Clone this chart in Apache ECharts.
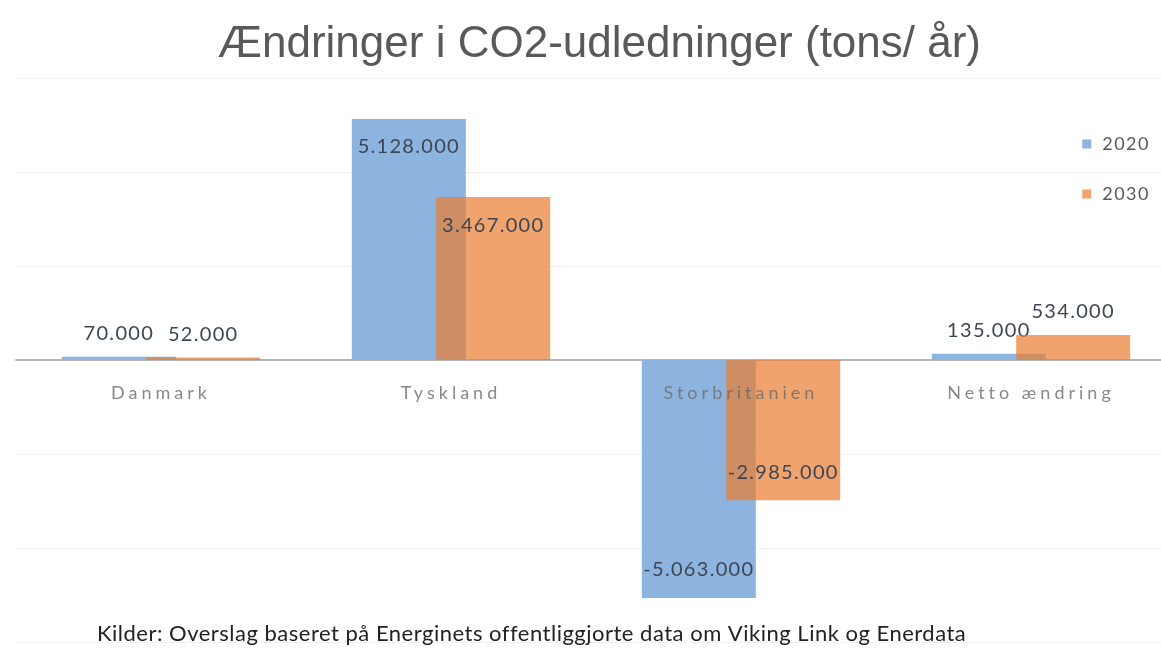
<!DOCTYPE html>
<html>
<head>
<meta charset="utf-8">
<script src="https://cdn.jsdelivr.net/npm/echarts@6/dist/echarts.min.js"></script>
<style>
html,body{margin:0;padding:0;background:#fff;}
#chart{width:1161px;height:649px;}
</style>
</head>
<body>
<div id="chart"></div>
<script>
const titleText = 'Ændringer i CO2-udledninger (tons/ år)';
const sourceText = 'Kilder: Overslag baseret på Energinets offentliggjorte data om Viking Link og Enerdata';
const categories = ['Danmark', 'Tyskland', 'Storbritanien', 'Netto ændring'];
const seriesNames = ['2020', '2030'];
const values2020 = [70000, 5128000, -5063000, 135000];
const values2030 = [52000, 3467000, -2985000, 534000];

// letter spacing helper: font family marker "lsN_M" -> N.M px spacing
(function () {
  const P = CanvasRenderingContext2D.prototype;
  ['fillText', 'strokeText'].forEach(fn => {
    const orig = P[fn];
    P[fn] = function (t, x, y, mw) {
      const m = /ls(\d+)_(\d+)/.exec(this.font);
      const has = 'letterSpacing' in this;
      if (has) this.letterSpacing = m ? (m[1] + '.' + m[2] + 'px') : '0px';
      const r = mw === undefined ? orig.call(this, t, x, y) : orig.call(this, t, x, y, mw);
      if (has) this.letterSpacing = '0px';
      return r;
    };
  });
})();

function fmt(v) {
  const s = Math.abs(v).toString().replace(/\B(?=(\d{3})+(?!\d))/g, '.');
  return (v < 0 ? '-' : '') + s;
}
function items(arr) {
  return arr.map(v => {
    const big = Math.abs(v) > 1000000;
    return {
      value: v,
      label: {
        position: big ? (v > 0 ? 'insideTop' : 'insideBottom') : 'top',
        distance: big ? 18 : 13
      }
    };
  });
}

const chart = echarts.init(document.getElementById('chart'), null, {renderer: 'canvas'});
const labelStyle = {
  show: true,
  formatter: p => fmt(p.value),
  fontFamily: 'Lato, ls1_3, sans-serif',
  fontSize: 20,
  color: '#3d4654'
};
chart.setOption({
  animation: false,
  backgroundColor: '#fff',
  title: {
    text: titleText,
    left: 213,
    top: 18,
    textStyle: {
      fontFamily: '"Liberation Sans", Arial, sans-serif',
      fontWeight: 'normal',
      fontSize: 44,
      color: '#595959'
    }
  },
  graphic: [{
    type: 'text',
    left: 97,
    top: 623,
    style: {
      text: sourceText,
      fontFamily: 'Lato, ls0_5, sans-serif',
      fontSize: 22,
      fill: '#222'
    },
    z: 20
  }],
  legend: {
    orient: 'vertical',
    right: 12,
    top: 130,
    itemWidth: 9,
    itemHeight: 9,
    itemGap: 32,
    icon: 'rect',
    textStyle: {
      fontFamily: 'Lato, ls1_5, sans-serif',
      fontSize: 18,
      color: '#595959',
      padding: [0, 0, 0, 6]
    },
    data: seriesNames
  },
  grid: {
    left: 16,
    top: 78,
    width: 1160,
    height: 564,
    containLabel: false,
    outerBoundsMode: 'none'
  },
  xAxis: {
    type: 'category',
    data: categories,
    axisLine: {onZero: true, lineStyle: {color: '#b5b5b5', width: 2}},
    axisTick: {show: false},
    axisLabel: {show: false}
  },
  yAxis: {
    type: 'value',
    min: -6000000,
    max: 6000000,
    interval: 2000000,
    axisLabel: {show: false},
    axisLine: {show: false},
    axisTick: {show: false},
    splitLine: {lineStyle: {color: '#f0f0f0', width: 1}}
  },
  series: [
    {
      name: seriesNames[0],
      type: 'bar',
      data: items(values2020),
      barWidth: 114,
      barGap: '-26%',
      itemStyle: {color: '#8db4de'},
      label: labelStyle,
      z: 2
    },
    {
      name: seriesNames[1],
      type: 'bar',
      data: items(values2030),
      barWidth: 114,
      barGap: '-26%',
      itemStyle: {color: 'rgba(233,124,45,0.7)'},
      label: labelStyle,
      z: 3
    },
    {
      name: 'categoryLabels',
      type: 'scatter',
      data: categories.map(c => [c, 0]),
      symbolSize: 0,
      silent: true,
      z: 10,
      label: {
        show: true,
        position: 'bottom',
        distance: 24,
        formatter: p => p.name || p.value[0],
        fontFamily: 'Lato, ls4_0, sans-serif',
        fontSize: 18,
        color: '#6a6a6a'
      }
    }
  ]
});
</script>
</body>
</html>
